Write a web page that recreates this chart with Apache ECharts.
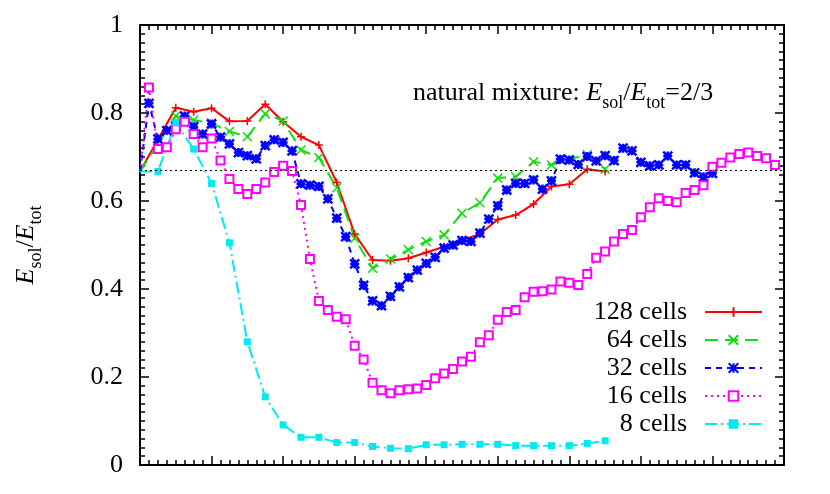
<!DOCTYPE html>
<html>
<head>
<meta charset="utf-8">
<script src="https://cdn.jsdelivr.net/npm/echarts@6/dist/echarts.min.js"></script>
<style>
html,body{margin:0;padding:0;background:#fff}
#chart{width:830px;height:494px}
</style>
</head>
<body>
<div id="chart"></div>
<script>
// data
var names = ['128 cells', '64 cells', '32 cells', '16 cells', '8 cells'];

var xCoarse = [0, 4, 6, 8, 10, 12, 14, 16, 18, 20, 22, 24, 26, 28, 30, 32, 34, 36, 38, 40, 42, 44, 46, 48, 50, 52];
var y128 = [0.667, 0.812, 0.803, 0.811, 0.781, 0.782, 0.820, 0.780, 0.746, 0.727, 0.642, 0.525, 0.466,
    0.464, 0.470, 0.483, 0.496, 0.511, 0.525, 0.558, 0.568, 0.593, 0.633, 0.638, 0.672, 0.667];
var y64 = [0.667, 0.793, 0.784, 0.777, 0.758, 0.746, 0.798, 0.782, 0.716, 0.699, 0.630, 0.515, 0.447,
    0.468, 0.489, 0.508, 0.523, 0.572, 0.596, 0.652, 0.655, 0.689, 0.682, 0.695, 0.705, 0.672];

// 32 and 16 cells: one point per x step, starting at x=0
var y32 = [0.667, 0.822, 0.741, 0.760, 0.770, 0.793, 0.769, 0.752, 0.775, 0.745,
    0.730, 0.710, 0.703, 0.696, 0.726, 0.739, 0.733, 0.714, 0.639, 0.636,
    0.633, 0.605, 0.561, 0.519, 0.457, 0.408, 0.373, 0.362, 0.383, 0.405,
    0.426, 0.443, 0.458, 0.472, 0.493, 0.500, 0.510, 0.508, 0.527, 0.559,
    0.589, 0.625, 0.640, 0.640, 0.648, 0.627, 0.646, 0.695, 0.693, 0.683,
    0.701, 0.691, 0.703, 0.692, 0.720, 0.714, 0.688, 0.680, 0.682, 0.702,
    0.682, 0.682, 0.664, 0.655, 0.663];
var y16 = [0.667, 0.858, 0.718, 0.722, 0.763, 0.780, 0.752, 0.722, 0.742, 0.692,
    0.650, 0.627, 0.616, 0.627, 0.642, 0.666, 0.680, 0.668, 0.591, 0.468,
    0.373, 0.352, 0.337, 0.331, 0.271, 0.240, 0.187, 0.170, 0.163, 0.170,
    0.172, 0.174, 0.182, 0.197, 0.208, 0.218, 0.235, 0.246, 0.279, 0.295,
    0.330, 0.348, 0.352, 0.381, 0.394, 0.395, 0.399, 0.417, 0.414, 0.409,
    0.434, 0.471, 0.485, 0.508, 0.525, 0.534, 0.563, 0.586, 0.606, 0.600,
    0.597, 0.618, 0.625, 0.636, 0.678, 0.687, 0.699, 0.707, 0.710, 0.702,
    0.697, 0.682];

var x8 = [0, 2, 4, 6, 8, 10, 12, 14, 16, 18, 20, 22, 24, 26, 28, 30, 32, 34, 36, 38, 40, 42, 44, 46, 48, 50, 52];
var y8 = [0.667, 0.667, 0.778, 0.718, 0.640, 0.505, 0.280, 0.155, 0.091, 0.063, 0.063, 0.051, 0.051, 0.042,
    0.038, 0.037, 0.046, 0.046, 0.047, 0.047, 0.047, 0.044, 0.044, 0.044, 0.044, 0.049, 0.055];

var natural = 2 / 3;

// [x, y] pairs; the point sitting on the left frame gets no marker (clipped in the original)
function pairs(xs, ys) {
    return ys.map(function (v, i) {
        var x = xs ? xs[i] : i;
        return x === 0 ? {value: [x, v], symbol: 'none'} : [x, v];
    });
}

var serif = 'Liberation Serif';
var rich = {
    i: {fontFamily: serif, fontStyle: 'italic', fontSize: 26, color: '#000'},
    s: {fontFamily: serif, fontSize: 18, color: '#000', padding: [20, 0, 0, 0]},
    n: {fontFamily: serif, fontSize: 26, color: '#000'}
};

function frameAxis(pos, isY) {
    return {
        type: 'value',
        position: pos,
        min: 0,
        max: isY ? 1 : 72,
        interval: isY ? 0.2 : 8,
        axisLine: {show: true, onZero: false, lineStyle: {color: '#000', width: 2}},
        axisTick: {show: true, inside: true, length: 9, lineStyle: {color: '#000', width: 1.5}},
        minorTick: {show: true, splitNumber: isY ? 10 : 8, length: 5, lineStyle: {color: '#000', width: 1.5}},
        axisLabel: {show: false},
        splitLine: {show: false}
    };
}

var chart = echarts.init(document.getElementById('chart'));

var yLeft = frameAxis('left', true);
yLeft.axisLabel = {show: true, margin: 17, fontFamily: serif, fontSize: 26, color: '#000'};
yLeft.name = '{i|E}{s|sol}{n|/}{i|E}{s|tot}';
yLeft.nameLocation = 'middle';
yLeft.nameGap = 95;
yLeft.nameRotate = 90;
yLeft.nameTextStyle = {rich: rich};

function line(name, data, color, dash, symbol, size, bw) {
    return {
        name: name,
        type: 'line',
        data: data,
        color: color,
        symbol: symbol,
        symbolSize: size,
        showSymbol: true,
        lineStyle: {color: color, width: 2, type: dash},
        itemStyle: {color: color, borderColor: color, borderWidth: bw},
        emphasis: {disabled: true}
    };
}

var s128 = line(names[0], pairs(xCoarse, y128), '#ff0000', 'solid', 'path://M5,0L5,10M0,5L10,5', 8, 1.5);
s128.markLine = {
    silent: true,
    symbol: ['none', 'none'],
    label: {show: false},
    lineStyle: {color: '#000', width: 1, type: [2, 3]},
    data: [{yAxis: natural}]
};

var option = {
    animation: false,
    backgroundColor: '#fff',
    grid: {left: 140, right: 46, top: 25, bottom: 29},
    xAxis: [frameAxis('bottom', false), frameAxis('top', false)],
    yAxis: [yLeft, frameAxis('right', true)],
    legend: {
        data: names,
        orient: 'vertical',
        align: 'right',
        right: 62,
        top: 294,
        itemWidth: 57,
        itemHeight: 12,
        itemGap: 2,
        textStyle: {fontFamily: serif, fontSize: 26, color: '#000', lineHeight: 26, padding: [0, 13, 0, 0]}
    },
    graphic: [{
        type: 'text',
        left: 413,
        top: 80,
        style: {
            text: '{n|natural mixture: }{i|E}{s|sol}{n|/}{i|E}{s|tot}{n|=2/3}',
            rich: rich
        }
    }],
    series: [
        s128,
        line(names[1], pairs(xCoarse, y64), '#11dd11', [13, 7], 'path://M0,0L10,10M0,10L10,0', 9, 1.5),
        line(names[2], pairs(null, y32), '#0000ff', [6, 5], 'path://M5,0L5,10M0,5L10,5M0,0L10,10M0,10L10,0', 9, 2.5),
        line(names[3], pairs(null, y16), '#ff00ff', [2, 4], 'emptyRect', 8, 2),
        line(names[4], pairs(x8, y8), '#00eaf0', [12, 4, 2, 4], 'rect', 7, 0)
    ]
};

chart.setOption(option);
</script>
</body>
</html>
